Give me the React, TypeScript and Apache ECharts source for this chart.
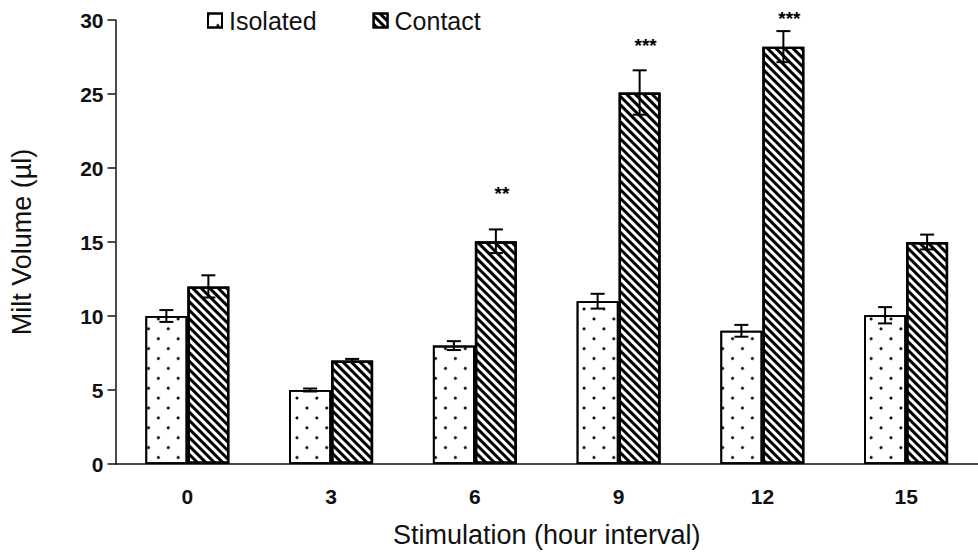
import React, { useEffect, useRef } from "react";
import * as echarts from "echarts";

const categories = ["0", "3", "6", "9", "12", "15"];
const isolated = [10.0, 5.0, 8.0, 11.0, 9.0, 10.05];
const isolatedErr = [0.4, 0.1, 0.3, 0.5, 0.4, 0.55];
const contact = [12.0, 7.0, 15.05, 25.1, 28.2, 15.0];
const contactErr = [0.75, 0.1, 0.8, 1.5, 1.05, 0.5];
const significance = ["", "", "**", "***", "***", ""];
const significanceY = [null, null, 18.3, 28.3, 30.1, null];
const seriesNames = ["Isolated", "Contact"];

const FONT = "'Liberation Sans', Arial, sans-serif";
const INK = "#111";
const BAR_W = 42;

const dotDecal = {
  symbol: "circle",
  symbolSize: 1,
  color: "#000",
  dashArrayX: [2.4, 10.3],
  dashArrayY: [2.4, 10.3],
  rotation: Math.PI / 4,
};
const stripeDecal = {
  symbol: "rect",
  symbolSize: 1,
  color: "#000",
  dashArrayX: [1, 0],
  dashArrayY: [2.1, 2.1],
  rotation: Math.PI / 4,
};

export default function App() {
  const ref = useRef<HTMLDivElement>(null);
  useEffect(() => {
    const chart = echarts.init(ref.current!, null, { renderer: "svg" });
    const errData: number[][] = [];
    categories.forEach((_, i) => {
      errData.push([i, isolated[i], isolatedErr[i], -1]);
      errData.push([i, contact[i], contactErr[i], 1]);
    });
    const starData: number[][] = [];
    significanceY.forEach((y, i) => {
      if (y != null) starData.push([i, y]);
    });
    chart.setOption({
      animation: false,
      backgroundColor: "#fff",
      legend: {
        data: seriesNames,
        left: 202,
        top: 3,
        icon: "rect",
        itemWidth: 14,
        itemHeight: 14,
        itemGap: 56,
        textStyle: { fontSize: 25, fontFamily: FONT, color: INK, padding: [0, 0, 0, 2] },
      },
      grid: { left: 115.5, right: -7, top: 20, bottom: 92 },
      xAxis: {
        type: "category",
        data: categories,
        name: "Stimulation (hour interval)",
        nameLocation: "middle",
        nameGap: 57,
        nameTextStyle: { fontSize: 27, fontFamily: FONT, color: INK },
        axisLine: { lineStyle: { color: INK, width: 1.5 } },
        axisTick: { length: 8, lineStyle: { color: INK, width: 1.5 } },
        axisLabel: { fontSize: 21, fontWeight: "bold", fontFamily: FONT, color: INK, margin: 22 },
      },
      yAxis: {
        type: "value",
        min: 0,
        max: 30,
        interval: 5,
        name: "Milt Volume (µl)",
        nameLocation: "middle",
        nameGap: 80,
        nameTextStyle: { fontSize: 27, fontFamily: FONT, color: INK },
        axisLine: { show: true, lineStyle: { color: INK, width: 1.5 } },
        axisTick: { show: true, length: 8, lineStyle: { color: INK, width: 1.5 } },
        axisLabel: { fontSize: 21, fontWeight: "bold", fontFamily: FONT, color: INK, margin: 12 },
        splitLine: { show: false },
      },
      series: [
        {
          name: seriesNames[0],
          type: "bar",
          data: isolated,
          barWidth: BAR_W,
          barGap: "0%",
          itemStyle: { color: "#fff", borderColor: "#000", borderWidth: 1.8, decal: dotDecal },
        },
        {
          name: seriesNames[1],
          type: "bar",
          data: contact,
          barWidth: BAR_W,
          barGap: "0%",
          itemStyle: { color: "#fff", borderColor: "#000", borderWidth: 2.4, decal: stripeDecal },
        },
        {
          type: "custom",
          z: 5,
          data: errData,
          renderItem: (params: any, api: any) => {
            const i = api.value(0);
            const v = api.value(1);
            const e = api.value(2);
            const side = api.value(3);
            const top = api.coord([i, v + e]);
            const bot = api.coord([i, v - e]);
            const x = top[0] + (side * BAR_W) / 2;
            const cap = 7;
            const st = { stroke: "#000", lineWidth: 2 };
            return {
              type: "group",
              children: [
                { type: "line", shape: { x1: x, y1: top[1], x2: x, y2: bot[1] }, style: st },
                { type: "line", shape: { x1: x - cap, y1: top[1], x2: x + cap, y2: top[1] }, style: st },
                { type: "line", shape: { x1: x - cap, y1: bot[1], x2: x + cap, y2: bot[1] }, style: st },
              ],
            };
          },
        },
        {
          type: "custom",
          z: 6,
          data: starData,
          renderItem: (params: any, api: any) => {
            const i = api.value(0);
            const p = api.coord([i, api.value(1)]);
            return {
              type: "text",
              x: p[0] + BAR_W / 2 + 6,
              y: p[1],
              style: {
                text: significance[i],
                fill: "#000",
                fontSize: 19,
                fontWeight: "bold",
                fontFamily: FONT,
                align: "center",
                verticalAlign: "middle",
              },
            };
          },
        },
      ],
    });
    return () => chart.dispose();
  }, []);
  return (
    <div
      ref={ref}
      style={{ position: "fixed", left: 0, top: 0, width: 978, height: 556, background: "#fff" }}
    />
  );
}
